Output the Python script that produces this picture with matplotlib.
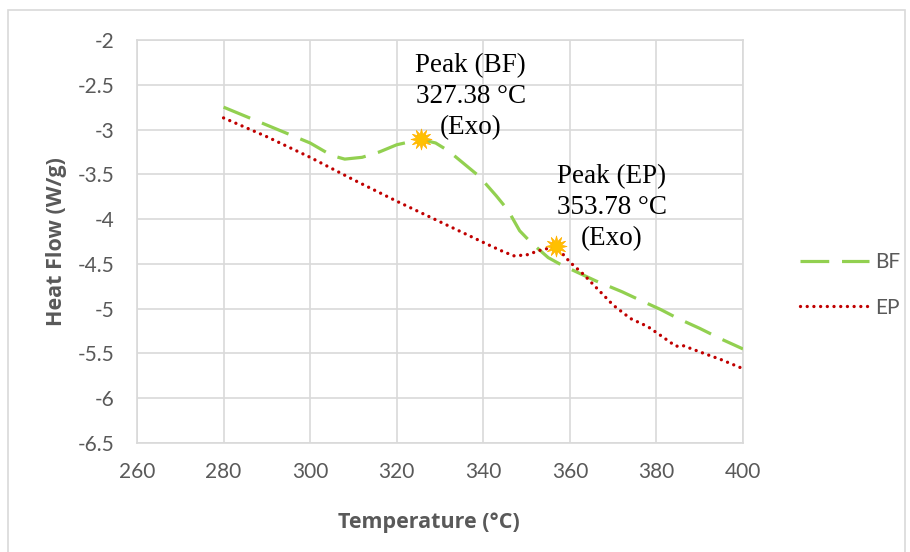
import matplotlib.pyplot as plt
from matplotlib.patches import Rectangle

# DSC curves
bf_temp = [280, 290, 300, 305, 308, 312, 316, 320, 325.5, 329, 332, 335, 339, 343,
           345.7, 348.4, 351, 355, 358, 362, 366, 372, 376, 381, 385, 390, 395, 400]
bf_flow = [-2.75, -2.95, -3.15, -3.29, -3.33, -3.31, -3.25, -3.17, -3.11, -3.15, -3.24,
           -3.36, -3.52, -3.74, -3.90, -4.13, -4.26, -4.43, -4.51, -4.60, -4.69, -4.81,
           -4.90, -5.01, -5.11, -5.22, -5.34, -5.45]

ep_temp = [280, 290, 300, 310, 320, 330, 340, 344, 347, 350, 353, 356.5, 358, 360, 363,
           366, 370, 374, 378, 381, 384.5, 386, 391, 395, 400]
ep_flow = [-2.87, -3.08, -3.31, -3.56, -3.80, -4.03, -4.26, -4.35, -4.41, -4.40, -4.35,
           -4.31, -4.37, -4.48, -4.61, -4.76, -4.96, -5.11, -5.20, -5.30, -5.42, -5.41,
           -5.50, -5.57, -5.67]

peak_temp = [325.5, 356.8]
peak_flow = [-3.11, -4.30]
peak_text = ["Peak (BF)\n327.38 °C\n(Exo)", "Peak (EP)\n353.78 °C\n(Exo)"]
text_pos = [(337.1, -2.63), (369.7, -3.87)]

xticks = list(range(260, 401, 20))
yticks = [-2, -2.5, -3, -3.5, -4, -4.5, -5, -5.5, -6, -6.5]

gray = '#595959'
gridc = '#d9d9d9'

fig = plt.figure(figsize=(9.1, 5.52), dpi=100)
ax = fig.add_axes([137/910, 1-443/552, (743-137)/910, (443-40)/552])

# outer chart border like excel
fig.patches.append(Rectangle((8/910, -0.01), 897/910, 1-10/552+0.01, transform=fig.transFigure,
                             fill=False, edgecolor=gridc, linewidth=1.2))

ax.plot(bf_temp, bf_flow, color='#92D050', linewidth=2.3, dashes=(9, 4),
        dash_capstyle='butt', label='BF', zorder=3)
ax.plot(ep_temp, ep_flow, color='#C00000', linewidth=2.4, linestyle=(0, (0.01, 2.0)),
        dash_capstyle='round', label='EP', zorder=3)

ax.scatter(peak_temp, peak_flow, marker=(12, 1, 0), s=230, color='#FFC000',
           edgecolor='#FFB000', linewidth=0.5, zorder=4)

for txt, (tx, ty) in zip(peak_text, text_pos):
    ax.text(tx, ty, txt, ha='center', va='center', fontsize=19.5,
            family='Liberation Serif', linespacing=1.3, zorder=5)

ax.set_xlim(260, 400)
ax.set_ylim(-6.5, -2)
ax.set_xticks(xticks)
ax.set_yticks(yticks)
ax.set_yticklabels([('%g' % v) for v in yticks])
ax.grid(True, color=gridc, linewidth=1.2)
ax.set_axisbelow(True)
for s in ax.spines.values():
    s.set_color(gridc)
    s.set_linewidth(1.2)
ax.tick_params(length=0, labelsize=15, labelcolor=gray)
ax.tick_params(axis='y', pad=16)
ax.tick_params(axis='x', pad=14)
for lab in ax.get_xticklabels() + ax.get_yticklabels():
    lab.set_family('Lato')

ax.set_xlabel('Temperature (°C)', fontsize=15.5, fontweight='bold', color=gray,
              family='Open Sans')
ax.xaxis.set_label_coords(0.482, -0.172)
ax.set_ylabel('Heat Flow (W/g)', fontsize=15.5, fontweight='bold', color=gray,
              family='Open Sans', labelpad=8)

fig.legend(loc='center left', bbox_to_anchor=(781/910, 1-285/552), frameon=False,
           handlelength=3.3, handletextpad=0.3, labelspacing=1.2,
           prop={'family': 'Lato', 'size': 15}, labelcolor=gray)

fig.savefig('out.png', dpi=100)
